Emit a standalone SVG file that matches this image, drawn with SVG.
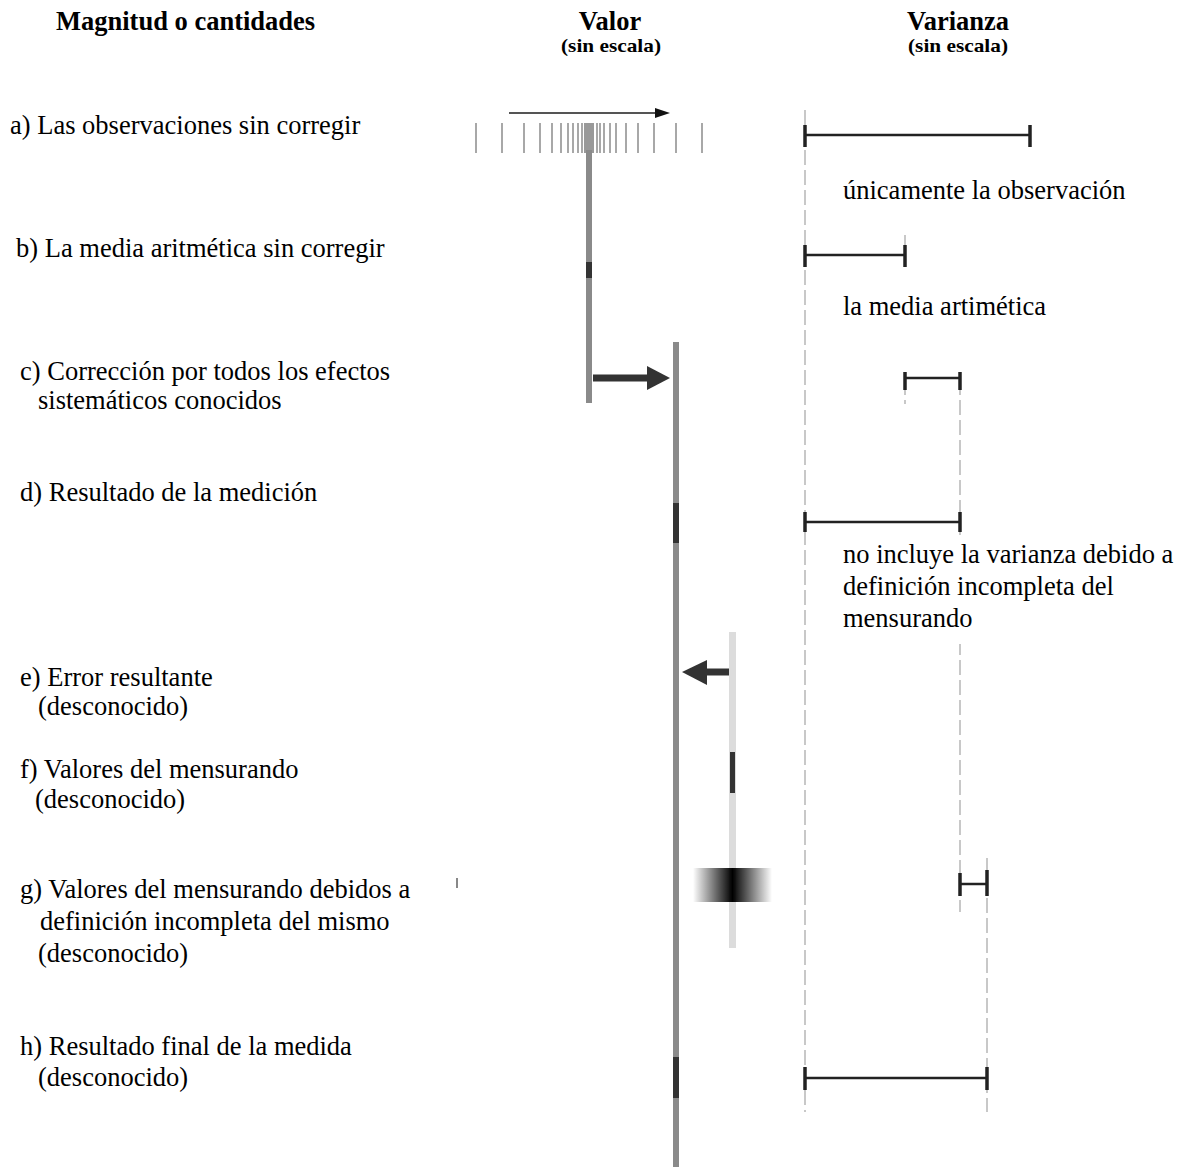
<svg xmlns="http://www.w3.org/2000/svg" width="1194" height="1167" viewBox="0 0 1194 1167">
<style>
text{font-family:"Liberation Serif","Times New Roman",serif;fill:#000}
.lbl{font-size:26.5px}
.hd{font-size:26.5px;font-weight:bold}
.sub{font-size:19px;font-weight:bold}
.tick{stroke:#a8a8a8;stroke-width:2}
.dash{stroke:#c8c8c8;stroke-width:2;stroke-dasharray:15,5;fill:none}
.bar{stroke:#222;stroke-width:2.5;fill:none}
.cap{stroke:#222;stroke-width:3.5}
</style>
<defs>
<linearGradient id="blur" x1="0" x2="1" y1="0" y2="0">
<stop offset="0" stop-color="#000" stop-opacity="0"/>
<stop offset="0.5" stop-color="#000" stop-opacity="1"/>
<stop offset="1" stop-color="#000" stop-opacity="0"/>
</linearGradient>
</defs>
<rect width="1194" height="1167" fill="#fff"/>

<g id="headers">
<text class="hd" x="56" y="30">Magnitud o cantidades</text>
<text class="hd" x="610" y="30" text-anchor="middle">Valor</text>
<text class="sub" x="561" y="52" textLength="100" lengthAdjust="spacingAndGlyphs">(sin escala)</text>
<text class="hd" x="958" y="30" text-anchor="middle">Varianza</text>
<text class="sub" x="908" y="52" textLength="100" lengthAdjust="spacingAndGlyphs">(sin escala)</text>
</g>

<g id="labels">
<text class="lbl" x="10" y="134">a) Las observaciones sin corregir</text>
<text class="lbl" x="16" y="257">b) La media aritmética sin corregir</text>
<text class="lbl" x="20" y="380">c) Corrección por todos los efectos</text>
<text class="lbl" x="38" y="409">sistemáticos conocidos</text>
<text class="lbl" x="20" y="501">d) Resultado de la medición</text>
<text class="lbl" x="20" y="686">e) Error resultante</text>
<text class="lbl" x="38" y="715">(desconocido)</text>
<text class="lbl" x="20" y="778">f) Valores del mensurando</text>
<text class="lbl" x="35" y="808">(desconocido)</text>
<text class="lbl" x="20" y="898">g) Valores del mensurando debidos a</text>
<text class="lbl" x="40" y="930">definición incompleta del mismo</text>
<text class="lbl" x="38" y="962">(desconocido)</text>
<text class="lbl" x="20" y="1055">h) Resultado final de la medida</text>
<text class="lbl" x="38" y="1086">(desconocido)</text>
</g>

<g id="value-column">
<g id="observations">
<line class="tick" x1="476" y1="123" x2="476" y2="153"/>
<line class="tick" x1="502" y1="123" x2="502" y2="153"/>
<line class="tick" x1="524" y1="123" x2="524" y2="153"/>
<line class="tick" x1="540" y1="123" x2="540" y2="153"/>
<line class="tick" x1="552" y1="123" x2="552" y2="153"/>
<line class="tick" x1="561" y1="123" x2="561" y2="153"/>
<line class="tick" x1="568" y1="123" x2="568" y2="153"/>
<line class="tick" x1="573" y1="123" x2="573" y2="153"/>
<line class="tick" x1="578" y1="123" x2="578" y2="153"/>
<line class="tick" x1="582" y1="123" x2="582" y2="153"/>
<rect x="584" y="123" width="10" height="30" fill="#999"/>
<line class="tick" x1="597" y1="123" x2="597" y2="153"/>
<line class="tick" x1="600" y1="123" x2="600" y2="153"/>
<line class="tick" x1="604" y1="123" x2="604" y2="153"/>
<line class="tick" x1="610" y1="123" x2="610" y2="153"/>
<line class="tick" x1="616" y1="123" x2="616" y2="153"/>
<line class="tick" x1="626" y1="123" x2="626" y2="153"/>
<line class="tick" x1="638" y1="123" x2="638" y2="153"/>
<line class="tick" x1="654" y1="123" x2="654" y2="153"/>
<line class="tick" x1="676" y1="123" x2="676" y2="153"/>
<line class="tick" x1="702" y1="123" x2="702" y2="153"/>
<line x1="509" y1="113" x2="658" y2="113" stroke="#555" stroke-width="2"/>
<polygon points="655,108 670,113 655,118" fill="#111"/>
</g>
<rect id="uncorrected-line" x="586" y="150" width="6" height="253" fill="#8a8a8a"/>
<rect id="mean-mark" x="586" y="262" width="6" height="16" fill="#333"/>
<rect id="corrected-line" x="673" y="342" width="6" height="825" fill="#8a8a8a"/>
<rect id="result-mark" x="673" y="503" width="6" height="40" fill="#333"/>
<rect id="final-mark" x="673" y="1057" width="6" height="41" fill="#333"/>
<rect id="measurand-line" x="729" y="632" width="7" height="316" fill="#dcdcdc"/>
<rect id="measurand-mark" x="730" y="752" width="5" height="41" fill="#333"/>
<rect id="blur-block" x="693" y="868" width="79" height="34" fill="url(#blur)"/>
<line x1="457" y1="878" x2="457" y2="888" stroke="#888" stroke-width="2"/>
</g>

<g id="connectors">
<line x1="593" y1="378" x2="650" y2="378" stroke="#333" stroke-width="7"/>
<polygon points="647,366 670,378 647,390" fill="#333"/>
<line x1="729" y1="672" x2="704" y2="672" stroke="#333" stroke-width="7"/>
<polygon points="707,660 682,672 707,685" fill="#333"/>
</g>

<g id="variance-column">
<line class="dash" x1="805" y1="110" x2="805" y2="1112"/>
<line class="dash" x1="960" y1="380" x2="960" y2="912"/>
<line class="dash" x1="987" y1="858" x2="987" y2="1112"/>
<line class="dash" x1="905" y1="380" x2="905" y2="404"/>
<line class="dash" x1="905" y1="235" x2="905" y2="246"/>
<g id="var-a"><line class="bar" x1="805" y1="135" x2="1030" y2="135"/><line class="cap" x1="805" y1="125" x2="805" y2="147"/><line class="cap" x1="1030" y1="125" x2="1030" y2="147"/></g>
<g id="var-b"><line class="bar" x1="805" y1="255" x2="905" y2="255"/><line class="cap" x1="805" y1="245" x2="805" y2="267"/><line class="cap" x1="905" y1="245" x2="905" y2="267"/></g>
<g id="var-c"><line class="bar" x1="905" y1="378" x2="960" y2="378"/><line class="cap" x1="905" y1="372" x2="905" y2="390"/><line class="cap" x1="960" y1="372" x2="960" y2="390"/></g>
<g id="var-d"><line class="bar" x1="805" y1="522" x2="960" y2="522"/><line class="cap" x1="805" y1="512" x2="805" y2="532"/><line class="cap" x1="960" y1="512" x2="960" y2="532"/></g>
<g id="var-g"><line class="bar" x1="960" y1="884" x2="987" y2="884"/><line class="cap" x1="960" y1="873" x2="960" y2="896"/><line class="cap" x1="987" y1="870" x2="987" y2="896"/></g>
<g id="var-h"><line class="bar" x1="805" y1="1078" x2="987" y2="1078"/><line class="cap" x1="805" y1="1067" x2="805" y2="1090"/><line class="cap" x1="987" y1="1067" x2="987" y2="1090"/></g>
<rect x="820" y="168" width="340" height="44" fill="#fff"/>
<text class="lbl" x="843" y="199">únicamente la observación</text>
<text class="lbl" x="843" y="315">la media artimética</text>
<rect x="820" y="538" width="370" height="106" fill="#fff"/>
<text class="lbl" x="843" y="563">no incluye la varianza debido a</text>
<text class="lbl" x="843" y="595">definición incompleta del</text>
<text class="lbl" x="843" y="627">mensurando</text>
</g>
</svg>
